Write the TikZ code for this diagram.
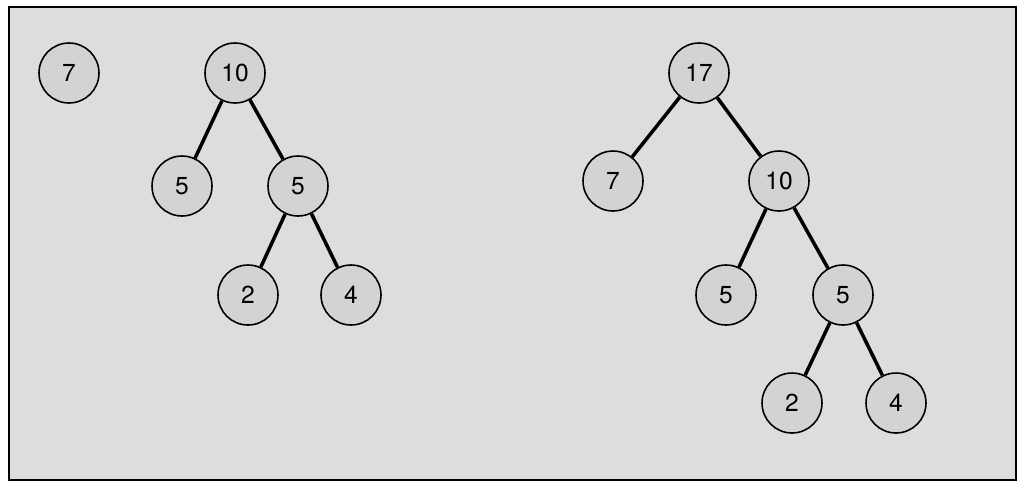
\documentclass[tikz,border=0pt]{standalone}
\usepackage{fontspec}
\setmainfont{TeX Gyre Heros}
\definecolor{panel}{HTML}{DDDDDD}
\definecolor{nodefill}{HTML}{D3D3D3}

\begin{document}
\begin{tikzpicture}[x=0.02cm, y=-0.02cm,
    main/.style={circle, draw, line width=0.9pt, fill=nodefill, minimum size=1.2cm, inner sep=0pt, font=\fontsize{14}{16}\selectfont},
    edge/.style={line width=2pt}]

    \useasboundingbox (0,0) rectangle (1025,488);
    \draw[line width=1pt, fill=panel] (9,7) rectangle (1016,480);

    % left: single 7 and tree of 10
    \node[main] (l7) at (69,73) {7};
    \node[main] (l10) at (235,73) {10};
    \node[main] (l5a) at (182,186) {5};
    \node[main] (l5b) at (298,186) {5};
    \node[main] (l2) at (248,295) {2};
    \node[main] (l4) at (351,295) {4};

    % right: merged tree of 17
    \node[main] (r17) at (699,73) {17};
    \node[main] (r7) at (613,181) {7};
    \node[main] (r10) at (779,181) {10};
    \node[main] (r5a) at (726,295) {5};
    \node[main] (r5b) at (843,295) {5};
    \node[main] (r2) at (792,403) {2};
    \node[main] (r4) at (896,403) {4};

    \path[edge]
        (l10) edge (l5a)
        (l10) edge (l5b)
        (l5b) edge (l2)
        (l5b) edge (l4)
        (r17) edge (r7)
        (r17) edge (r10)
        (r10) edge (r5a)
        (r10) edge (r5b)
        (r5b) edge (r2)
        (r5b) edge (r4)
        ;
\end{tikzpicture}
\end{document}
